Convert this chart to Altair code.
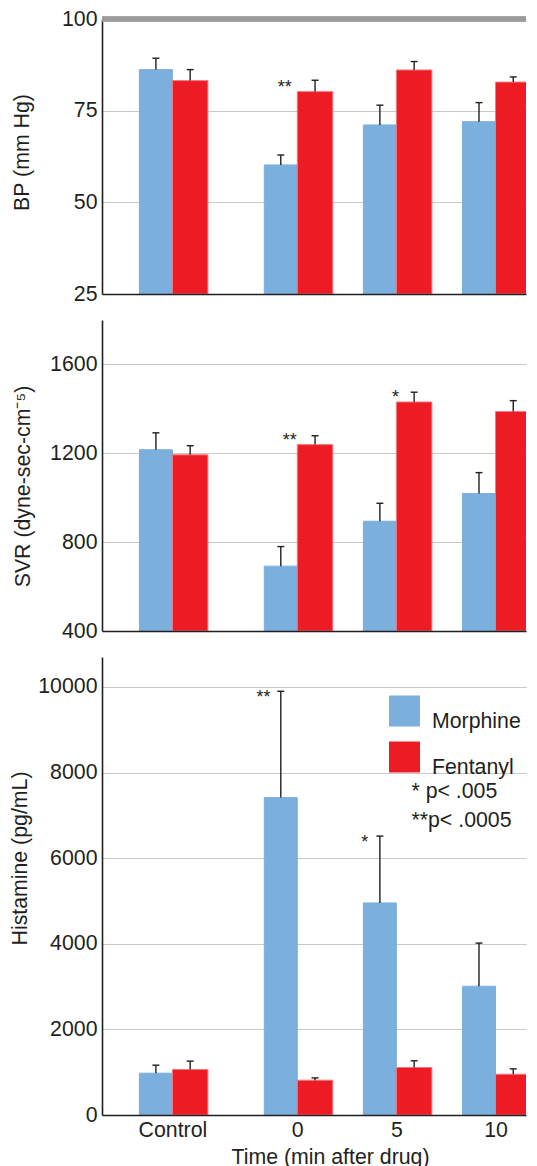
import altair as alt
import pandas as pd

# ---------------- data ----------------
times = ["Control", "0", "5", "10"]
time_axis = [-6.3, 0, 5, 10]          # position of each group on the time axis (min)
drugs = ["Morphine", "Fentanyl"]

bp_morphine = [86.2, 60.2, 71.1, 72.0]
bp_morphine_se = [3.1, 2.7, 5.4, 5.2]
bp_fentanyl = [83.2, 80.2, 86.1, 82.8]
bp_fentanyl_se = [3.0, 3.1, 2.3, 1.4]

svr_morphine = [1216, 692, 894, 1019]
svr_morphine_se = [76, 88, 81, 94]
svr_fentanyl = [1193, 1239, 1431, 1388]
svr_fentanyl_se = [41, 40, 44, 49]

his_morphine = [977, 7415, 4954, 3008]
his_morphine_se = [187, 2484, 1562, 1008]
his_fentanyl = [1063, 813, 1110, 953]
his_fentanyl_se = [195, 54, 156, 125]

# significance marks: text, time-axis position, value
bp_star_text = ["**"]
bp_star_x = [-0.63]
bp_star_y = [79.9]
svr_star_text = ["**", "*"]
svr_star_x = [-0.38, 4.95]
svr_star_y = [1234, 1426]
his_star_text = ["**", "*"]
his_star_x = [-1.70, 3.41]
his_star_y = [9625, 6227]

note_text = ["* p< .005", "**p< .0005"]
note_x = [5.76, 5.76]
note_y = [7400, 6720]

# ---------------- style ----------------
BLUE = "#7bafdd"
RED = "#ed1c24"
INK = "#231f20"
FONT = "Liberation Sans"
FS = 21.3
M_W, F_W = 33, 35.5
OFFS = {"Morphine": (M_W, -M_W / 2), "Fentanyl": (F_W, F_W / 2)}
STROKE = {"Morphine": BLUE, "Fentanyl": "#f47a7e"}
WIDTH = 424
PX_PER_MIN = 20.3
X0 = -9.6

xscale = alt.Scale(domain=[X0, X0 + WIDTH / PX_PER_MIN], nice=False, zero=False)


def make_df(m, mse, f, fse):
    rows = []
    for i, t in enumerate(times):
        rows.append(dict(time=t, pos=time_axis[i], drug="Morphine", value=m[i], upper=m[i] + mse[i]))
        rows.append(dict(time=t, pos=time_axis[i], drug="Fentanyl", value=f[i], upper=f[i] + fse[i]))
    return pd.DataFrame(rows)


def panel(df, ydom, yvals, title, tx, ty, height, stars, bottom=False, legend=False,
          top_line=False, notes=None):
    if bottom:
        xaxis = alt.Axis(values=time_axis, title="Time (min after drug)",
                         labelExpr="datum.value < -1 ? 'Control' : format(datum.value, 'd')",
                         ticks=False, grid=False, labelPadding=4, titleX=228, titleY=48,
                         titleBaseline="alphabetic", titleAlign="center", zindex=1)
    else:
        xaxis = alt.Axis(labels=False, ticks=False, grid=False, title=None, zindex=1)
    yaxis = alt.Axis(values=yvals, title=title, titleX=tx, titleY=ty, titleAngle=-90,
                     titleAlign="center", titleBaseline="alphabetic", grid=True,
                     ticks=False, labelPadding=5, format="d")
    yscale = alt.Scale(domain=ydom, nice=False, zero=False)

    def X(f="pos"):
        return alt.X(f"{f}:Q", scale=xscale, axis=xaxis)

    def Y(f):
        return alt.Y(f"{f}:Q", scale=yscale, axis=yaxis)

    cscale = alt.Scale(domain=drugs, range=[BLUE, RED])
    if legend:
        lg = alt.Legend(orient="none", legendX=287, legendY=38.5, title=None,
                        symbolType="square", symbolSize=961, symbolStrokeWidth=0,
                        symbolOpacity=1, labelFontSize=FS, labelOffset=12,
                        labelBaseline="top", labelColor=INK, rowPadding=9, padding=0,
                        labelFont=FONT)
    else:
        lg = None
    color = alt.Color("drug:N", scale=cscale, legend=lg)

    base = alt.Chart(df)
    layers = []
    if top_line:
        layers.append(alt.Chart(df).mark_rule(color="#9b9b9b", strokeWidth=4.5)
                      .encode(y=alt.datum(ydom[1], scale=yscale)))
    for drug in drugs:
        w, off = OFFS[drug]
        d = base.transform_filter(alt.datum.drug == drug)
        layers.append(d.mark_bar(width=w, xOffset=off, clip=True, stroke=STROKE[drug],
                                 strokeWidth=1)
                      .encode(x=X(), y=Y("value"), y2=alt.datum(ydom[0]), color=color))
    for drug in drugs:
        w, off = OFFS[drug]
        d = base.transform_filter(alt.datum.drug == drug)
        layers.append(d.mark_rule(xOffset=off, color=INK, strokeWidth=1.4)
                      .encode(x=X(), y=Y("value"), y2="upper:Q"))
        layers.append(d.mark_tick(orient="horizontal", size=7, thickness=1.4, xOffset=off,
                                  color=INK, opacity=1)
                      .encode(x=X(), y=Y("upper")))
    st = pd.DataFrame({"t": stars[0], "sx": stars[1], "sy": stars[2]})
    layers.append(alt.Chart(st).mark_text(fontSize=18, align="center", baseline="alphabetic",
                                          color=INK, font=FONT)
                  .encode(x=X("sx"), y=Y("sy"), text="t:N"))
    if notes is not None:
        nt = pd.DataFrame({"t": notes[0], "nx": notes[1], "ny": notes[2]})
        layers.append(alt.Chart(nt).mark_text(fontSize=FS, align="left", baseline="alphabetic",
                                              color=INK, font=FONT)
                      .encode(x=X("nx"), y=Y("ny"), text="t:N"))
    return alt.layer(*layers).properties(width=WIDTH, height=height)


bp = panel(make_df(bp_morphine, bp_morphine_se, bp_fentanyl, bp_fentanyl_se),
           [25, 100], [25, 50, 75, 100], "BP (mm Hg)", -74, 133, 275,
           (bp_star_text, bp_star_x, bp_star_y), top_line=True)
svr = panel(make_df(svr_morphine, svr_morphine_se, svr_fentanyl, svr_fentanyl_se),
            [400, 1800], [400, 800, 1200, 1600], "SVR (dyne-sec-cm\u207b\u2075)", -73, 166, 311,
            (svr_star_text, svr_star_x, svr_star_y))
his = panel(make_df(his_morphine, his_morphine_se, his_fentanyl, his_fentanyl_se),
            [0, 10700], [0, 2000, 4000, 6000, 8000, 10000], "Histamine (pg/mL)", -76, 201, 458,
            (his_star_text, his_star_x, his_star_y), bottom=True, legend=True,
            notes=(note_text, note_x, note_y))

chart = (
    alt.vconcat(bp, svr, his, spacing=26, bounds="flush",
                padding={"left": 1, "top": 0, "right": 0, "bottom": 0})
    .resolve_legend(color="independent")
    .configure(font=FONT)
    .configure_axis(labelFontSize=FS, titleFontSize=FS, labelColor=INK, titleColor=INK,
                    titleFontWeight="normal", domainColor=INK, domainWidth=1.6,
                    gridColor="#c8c8c8", gridWidth=1.2, labelFont=FONT, titleFont=FONT)
    .configure_view(stroke=None)
)

chart.save("out.html", embed_options={"renderer": "svg", "actions": False})
